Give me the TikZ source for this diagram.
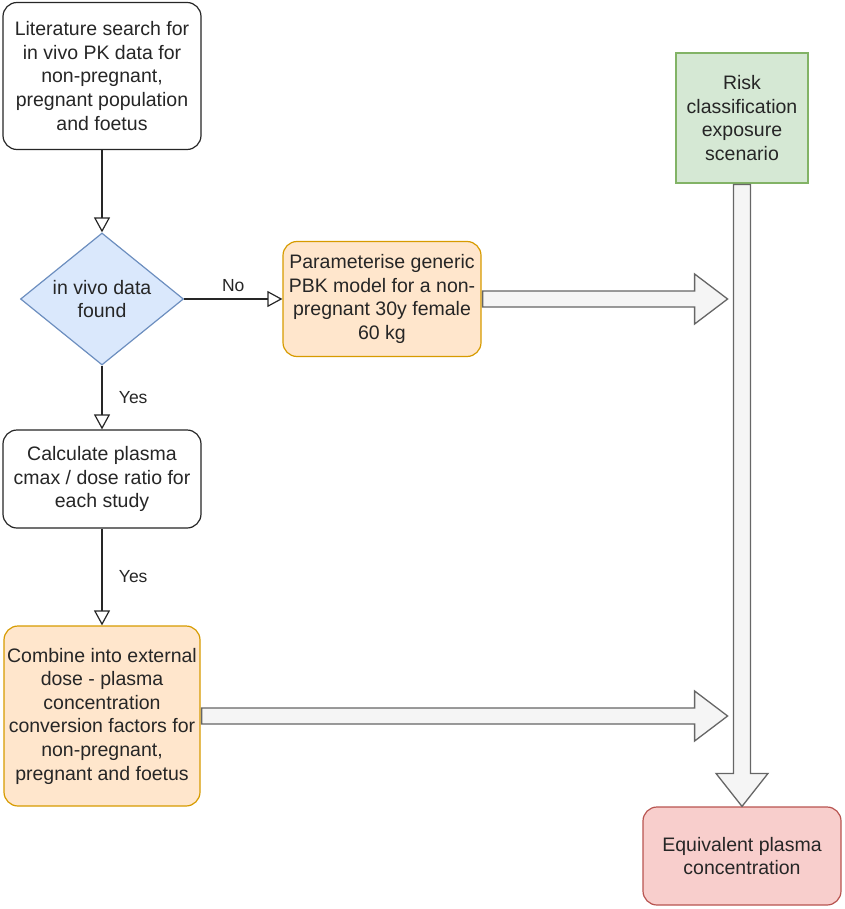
\documentclass[tikz,border=0pt]{standalone}
\usepackage{fontspec}
\setmainfont{Liberation Sans}
\usetikzlibrary{shapes.geometric,arrows.meta,calc}

\definecolor{orangefill}{HTML}{FFE6CC}
\definecolor{orangeline}{HTML}{D79B00}
\definecolor{bluefill}{HTML}{DAE8FC}
\definecolor{blueline}{HTML}{6C8EBF}
\definecolor{greenfill}{HTML}{D5E8D4}
\definecolor{greenline}{HTML}{82B366}
\definecolor{redfill}{HTML}{F8CECC}
\definecolor{redline}{HTML}{B85450}
\definecolor{flexfill}{HTML}{F5F5F5}
\definecolor{flexline}{HTML}{666666}

\tikzset{
  txt/.style={font=\fontsize{19.5}{23.6}\selectfont, align=center, inner sep=0pt, text=black!85},
  plain/.style={txt, draw=black!85, line width=1.2pt, rounded corners=14pt, fill=white},
  orangebox/.style={txt, draw=orangeline, fill=orangefill, line width=1.2pt, rounded corners=14pt},
  decision/.style={txt, shape=diamond, aspect=1.23, draw=blueline, fill=bluefill, line width=1.2pt,
    minimum width=163pt, minimum height=132pt},
  riskbox/.style={txt, draw=greenline, fill=greenfill, line width=1.2pt,
    minimum width=132pt, minimum height=130pt},
  resultbox/.style={txt, draw=redline, fill=redfill, line width=1.2pt, rounded corners=14pt,
    minimum width=198pt, minimum height=98pt},
  flow/.style={-{Triangle[open,length=15pt,width=16pt]}, line width=1.2pt, draw=black!85},
  lbl/.style={font=\fontsize{17.5}{20}\selectfont, text=black!85},
  flex/.style={draw=flexline, fill=flexfill, line width=1.3pt, line join=miter},
}

\begin{document}
\begin{tikzpicture}[x=1pt,y=-1pt]
\useasboundingbox (0,0) rectangle (844,909);

\node[plain, minimum width=198pt, minimum height=147pt] (lit) at (102,76)
  {Literature search for\\in vivo PK data for\\non-pregnant,\\pregnant population\\and foetus};
\node[decision] (found) [below of=lit,node distance=223pt] {in vivo data\\found};
\node[orangebox, minimum width=198pt, minimum height=115pt] (pbk) [right of=found,node distance=280pt]
  {Parameterise generic\\PBK model for a non-\\pregnant 30y female\\60 kg};
\node[plain, minimum width=198pt, minimum height=98pt] (calc) [below of=found,node distance=180pt]
  {Calculate plasma\\cmax / dose ratio for\\each study};
\node[orangebox, minimum width=196pt, minimum height=180pt] (combine) [below of=calc,node distance=237pt]
  {Combine into external\\dose - plasma\\concentration\\conversion factors for\\non-pregnant,\\pregnant and foetus};

\node[riskbox] (risk) at (742,118) {Risk\\classification\\exposure\\scenario};
\node[resultbox] (equiv) [below of=risk,node distance=738pt] {Equivalent plasma\\concentration};

\draw[flow] (lit) -- (found);
\draw[flow] (found) -- node[lbl,above=3pt] {No} (pbk);
\draw[flow] (found) -- node[lbl,right=13pt] {Yes} (calc);
\draw[flow] (calc) -- node[lbl,right=13pt] {Yes} (combine);

% wide arrows into the result
\coordinate (pbkend) at ([xshift=246pt]pbk.east);
\coordinate (combend) at ([xshift=527pt]combine.east);

\draw[flex] ($(pbk.east)+(1,-8)$) -- ($(pbkend)+(-33,-8)$) -- ($(pbkend)+(-33,-25)$) -- (pbkend)
  -- ($(pbkend)+(-33,25)$) -- ($(pbkend)+(-33,8)$) -- ($(pbk.east)+(1,8)$) -- cycle;
\draw[flex] ($(combine.east)+(1,-8)$) -- ($(combend)+(-33,-8)$) -- ($(combend)+(-33,-25)$) -- (combend)
  -- ($(combend)+(-33,25)$) -- ($(combend)+(-33,8)$) -- ($(combine.east)+(1,8)$) -- cycle;
\draw[flex] ($(risk.south)+(-8.5,1)$) -- ($(equiv.north)+(-8.5,-33)$) -- ($(equiv.north)+(-26,-33)$) -- (equiv.north)
  -- ($(equiv.north)+(26,-33)$) -- ($(equiv.north)+(8.5,-33)$) -- ($(risk.south)+(8.5,1)$) -- cycle;
\end{tikzpicture}
\end{document}
